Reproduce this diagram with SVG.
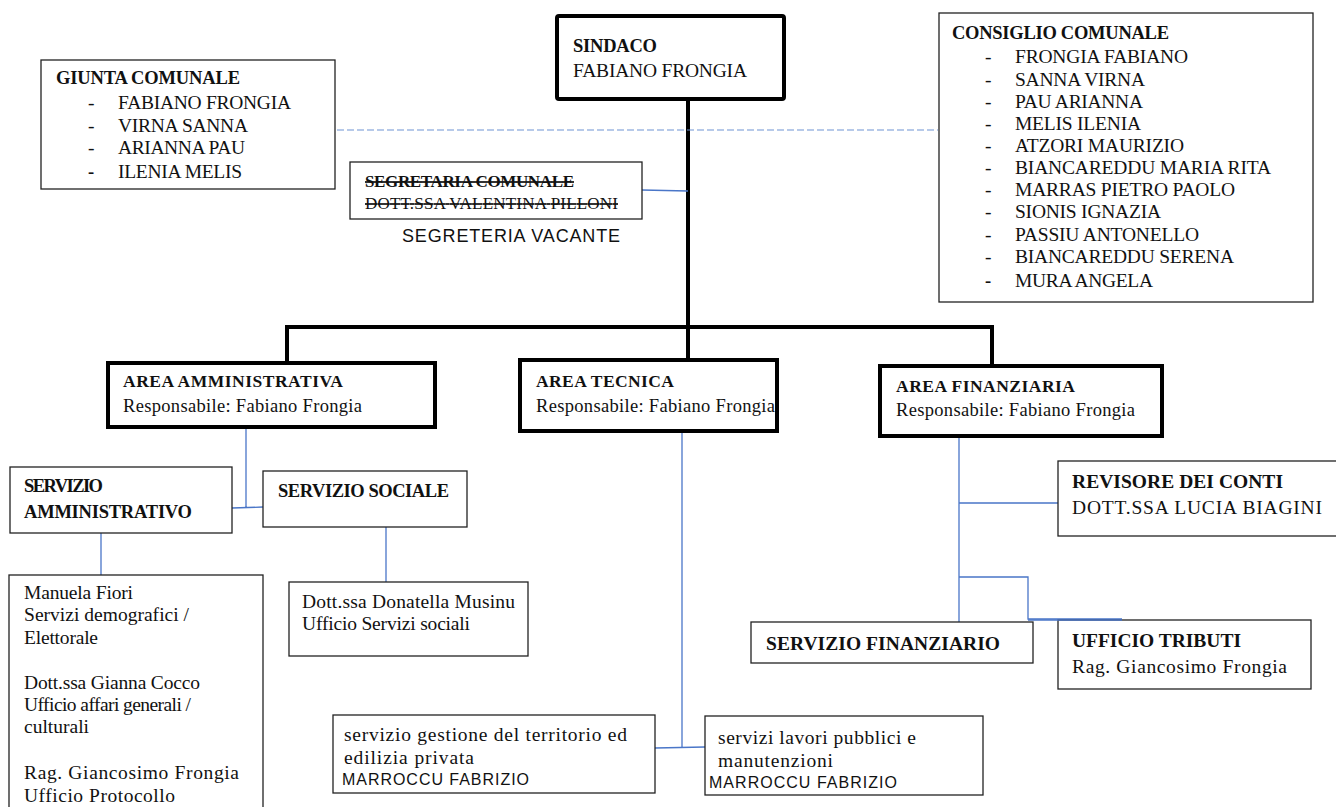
<svg xmlns="http://www.w3.org/2000/svg" width="1336" height="807" viewBox="0 0 1336 807">
<style>
text{font-family:"Liberation Serif","Times New Roman",serif;fill:#111;font-size:19.5px}
.b{font-weight:bold;font-size:18.5px}
.s{font-family:"Liberation Sans",Arial,sans-serif}
.thin{fill:#fff;stroke:#222;stroke-width:1.3}
.thick{fill:#fff;stroke:#000;stroke-width:4}
.blue{fill:none;stroke:#4a76c8;stroke-width:1.3}
.bk{fill:none;stroke:#000;stroke-width:4}
</style>
<rect width="1336" height="807" fill="#fff"/>
<g id="connectors">
<path class="bk" d="M688 99V360M287 362V327H992V366"/>
<path d="M337 130H938" fill="none" stroke="#6f93d4" stroke-width="1.2" stroke-dasharray="7,3"/>
<path class="blue" d="M642 190L688 191"/>
<path class="blue" d="M246 427V507M232 508L263 507"/>
<path class="blue" d="M101 533V575M386 527V582"/>
<path class="blue" d="M682 431V747M655 748L705 747M682 431H700"/>
<path class="blue" d="M959 436V622M959 503H1058M959 577H1028V619H1122"/>
</g>
<g id="sindaco"><rect class="thick" x="557" y="16" width="227" height="83" rx="2"/>
<text class="b" x="573" y="52" textLength="84">SINDACO</text>
<text x="573" y="77" textLength="174">FABIANO FRONGIA</text></g>
<g id="giunta"><rect class="thin" x="41" y="60" width="294" height="129"/>
<text class="b" x="56" y="84" textLength="184">GIUNTA COMUNALE</text>
<text x="88" y="109">-</text><text x="118" y="109" textLength="173">FABIANO FRONGIA</text>
<text x="88" y="132">-</text><text x="118" y="132" textLength="130">VIRNA SANNA</text>
<text x="88" y="154">-</text><text x="118" y="154" textLength="127">ARIANNA PAU</text>
<text class="b" x="88" y="178">-</text><text x="118" y="178" textLength="124">ILENIA MELIS</text></g>
<g id="consiglio"><rect class="thin" x="939" y="13" width="374" height="289"/>
<text class="b" x="952" y="39" textLength="217">CONSIGLIO COMUNALE</text>
<text x="985" y="63">-</text><text x="1015" y="63" textLength="173">FRONGIA FABIANO</text>
<text x="985" y="86">-</text><text x="1015" y="86" textLength="130">SANNA VIRNA</text>
<text x="985" y="108">-</text><text x="1015" y="108" textLength="128">PAU ARIANNA</text>
<text x="985" y="130">-</text><text x="1015" y="130" textLength="126">MELIS ILENIA</text>
<text x="985" y="152">-</text><text x="1015" y="152" textLength="169">ATZORI MAURIZIO</text>
<text x="985" y="174">-</text><text x="1015" y="174" textLength="256">BIANCAREDDU MARIA RITA</text>
<text x="985" y="196">-</text><text x="1015" y="196" textLength="220">MARRAS PIETRO PAOLO</text>
<text x="985" y="218">-</text><text x="1015" y="218" textLength="146">SIONIS IGNAZIA</text>
<text x="985" y="241">-</text><text x="1015" y="241" textLength="184">PASSIU ANTONELLO</text>
<text x="985" y="263">-</text><text x="1015" y="263" textLength="219">BIANCAREDDU SERENA</text>
<text class="b" x="985" y="287">-</text><text x="1015" y="287" textLength="138">MURA ANGELA</text></g>
<g id="segretaria"><rect class="thin" x="350" y="162" width="292" height="57"/>
<text class="b" x="365" y="187" style="font-size:17px" textLength="209" text-decoration="line-through">SEGRETARIA COMUNALE</text>
<text x="365" y="209" style="font-size:17px" textLength="253" text-decoration="line-through">DOTT.SSA VALENTINA PILLONI</text>
<text class="s" x="402" y="242" style="font-size:18px" textLength="218" fill="#222">SEGRETERIA VACANTE</text></g>
<g id="area-amministrativa"><rect class="thick" x="108" y="363" width="327" height="64"/>
<text class="b" x="123" y="387" style="font-size:17.5px" textLength="220">AREA AMMINISTRATIVA</text>
<text x="123" y="412" style="font-size:18.5px" textLength="239">Responsabile: Fabiano Frongia</text></g>
<g id="area-tecnica"><rect class="thick" x="520" y="360" width="257" height="71"/>
<text class="b" x="536" y="387" style="font-size:17.5px" textLength="138">AREA TECNICA</text>
<text x="536" y="412" style="font-size:18.5px" textLength="239">Responsabile: Fabiano Frongia</text></g>
<g id="area-finanziaria"><rect class="thick" x="880" y="366" width="282" height="70"/>
<text class="b" x="896" y="392" style="font-size:17.5px" textLength="179">AREA FINANZIARIA</text>
<text x="896" y="416" style="font-size:18.5px" textLength="239">Responsabile: Fabiano Frongia</text></g>
<g id="servizio-amministrativo"><rect class="thin" x="10" y="467" width="222" height="66"/>
<text class="b" x="24" y="492" textLength="79">SERVIZIO</text>
<text class="b" x="24" y="518" textLength="168">AMMINISTRATIVO</text></g>
<g id="servizio-sociale"><rect class="thin" x="263" y="471" width="204" height="56"/>
<text class="b" x="278" y="497" textLength="171">SERVIZIO SOCIALE</text></g>
<g id="uffici-amministrativi"><rect class="thin" x="9" y="575" width="254" height="240"/>
<text x="24" y="599" textLength="109">Manuela Fiori</text>
<text x="24" y="621" textLength="165">Servizi demografici /</text>
<text x="24" y="644" textLength="74">Elettorale</text>
<text x="24" y="689" textLength="176">Dott.ssa Gianna Cocco</text>
<text x="24" y="711" textLength="167">Ufficio affari generali /</text>
<text x="24" y="733" textLength="65">culturali</text>
<text x="24" y="779" textLength="215">Rag. Giancosimo Frongia</text>
<text x="24" y="802" textLength="151">Ufficio Protocollo</text></g>
<g id="ufficio-sociali"><rect class="thin" x="289" y="582" width="239" height="74"/>
<text x="302" y="608" textLength="213">Dott.ssa Donatella Musinu</text>
<text x="302" y="630" textLength="168">Ufficio Servizi sociali</text></g>
<g id="servizio-territorio"><rect class="thin" x="333" y="715" width="322" height="78"/>
<text x="344" y="741" textLength="283">servizio gestione del territorio ed</text>
<text x="344" y="764" textLength="130">edilizia privata</text>
<text class="s" x="342" y="785" style="font-size:16px" textLength="187">MARROCCU FABRIZIO</text></g>
<g id="servizio-lavori"><rect class="thin" x="705" y="716" width="278" height="79"/>
<text x="718" y="744" textLength="198">servizi lavori pubblici e</text>
<text x="718" y="767" textLength="115">manutenzioni</text>
<text class="s" x="709" y="788" style="font-size:16px" textLength="188">MARROCCU FABRIZIO</text></g>
<g id="revisore"><rect class="thin" x="1058" y="461" width="290" height="75"/>
<text class="b" x="1072" y="488" style="font-size:19.5px" textLength="211">REVISORE DEI CONTI</text>
<text x="1072" y="514" textLength="250" fill="#1c2a44">DOTT.SSA LUCIA BIAGINI</text></g>
<g id="servizio-finanziario"><rect class="thin" x="751" y="622" width="282" height="41"/>
<text class="b" x="766" y="650" style="font-size:19.5px" textLength="234">SERVIZIO FINANZIARIO</text></g>
<g id="ufficio-tributi"><rect class="thin" x="1058" y="620" width="253" height="69"/>
<text class="b" x="1072" y="647" style="font-size:19.5px" textLength="169">UFFICIO TRIBUTI</text>
<text x="1072" y="673" textLength="215">Rag. Giancosimo Frongia</text></g>
<path class="blue" d="M1028 620H1122"/>
</svg>
